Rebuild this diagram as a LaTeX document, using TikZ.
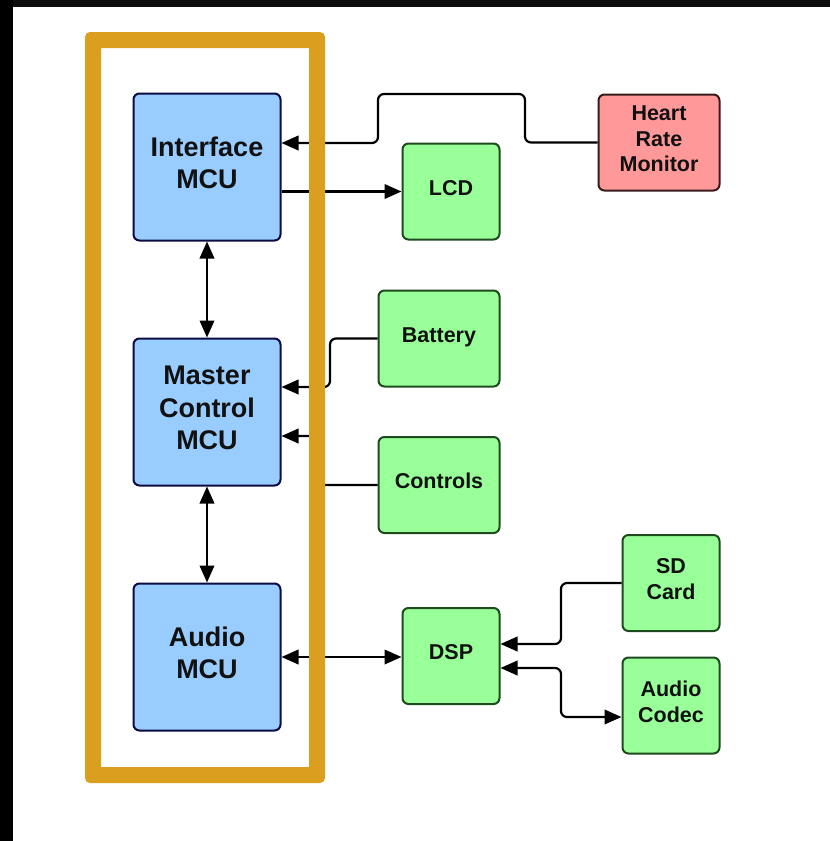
\documentclass[tikz,border=0pt]{standalone}
\usepackage{fontspec}
\setmainfont{Liberation Sans}
\usetikzlibrary{arrows.meta}

\definecolor{mcublue}{HTML}{99CCFF}
\definecolor{mcuedge}{HTML}{0B0B45}
\definecolor{periph}{HTML}{99FF99}
\definecolor{periphedge}{HTML}{1E4A1E}
\definecolor{sensor}{HTML}{FF9999}
\definecolor{sensoredge}{HTML}{3A1A1A}
\definecolor{frameorange}{HTML}{DB9F20}
\definecolor{inktext}{HTML}{111111}
\definecolor{topband}{HTML}{0D0D0D}

% centred block of lines, lifted a little without changing its size
\newcommand{\liftlines}[2]{\raisebox{#1}[\height][\depth]{\begin{tabular}{@{}c@{}}#2\end{tabular}}}
\newcommand{\bigtxt}[1]{\liftlines{1.2pt}{#1}}
\newcommand{\smalltxt}[1]{\liftlines{1.5pt}{#1}}

\tikzset{
  mcu/.style={draw=mcuedge, fill=mcublue, line width=2pt, rounded corners=6pt,
    minimum width=147pt, minimum height=147pt, inner sep=0pt,
    text=inktext, font=\fontsize{27}{32.5}\selectfont\bfseries},
  dev/.style={draw=periphedge, fill=periph, line width=2pt, rounded corners=6pt,
    minimum height=96pt, inner sep=0pt,
    text=inktext, font=\fontsize{21.5}{25.8}\selectfont\bfseries},
  sens/.style={dev, draw=sensoredge, fill=sensor},
  conn/.style={draw=black, line width=2.2pt, rounded corners=6pt},
  tip/.tip={Triangle[length=17pt, width=14.5pt]},
  toward/.style={conn, -tip},
  both/.style={conn, tip-tip},
}

\begin{document}
\begin{tikzpicture}[x=1pt, y=-1pt]
  % page area with the dark screen edges
  \fill[white] (0,0) rectangle (830,841);
  \useasboundingbox (0,0) rectangle (830,841);
  \fill[black] (0,0) rectangle (13,841);
  \fill[topband] (13,0) rectangle (830,7);

  % processors
  \node[mcu] (iface)  at (207,167) {\bigtxt{Interface\\MCU}};
  \node[mcu] (master) at (207,412) {\bigtxt{Master\\Control\\MCU}};
  \node[mcu] (audio)  at (207,657) {\bigtxt{Audio\\MCU}};

  % peripherals
  \node[sens, minimum width=121pt] (hrm)      at (659,142.5) {\smalltxt{Heart\\Rate\\Monitor}};
  \node[dev,  minimum width=97pt]  (lcd)      at (451,191.5) {\smalltxt{LCD}};
  \node[dev,  minimum width=121pt] (battery)  at (439,338.5) {\smalltxt{Battery}};
  \node[dev,  minimum width=121pt] (controls) at (439,485)   {\smalltxt{Controls}};
  \node[dev,  minimum width=97pt]  (dsp)      at (451,656)   {\smalltxt{DSP}};
  \node[dev,  minimum width=97pt]  (sd)       at (671,583)   {\smalltxt{SD\\Card}};
  \node[dev,  minimum width=97pt]  (codec)    at (671,705.5) {\smalltxt{Audio\\Codec}};

  % routing points
  \coordinate (hrmA) at (525,142.5);
  \coordinate (hrmB) at (525,94);
  \coordinate (hrmC) at (378,94);
  \coordinate (hrmD) at (378,143);
  \coordinate (batA) at (330,338.5);
  \coordinate (batB) at (330,387);
  \coordinate (ctlA) at (317,485);
  \coordinate (ctlB) at (317,436);
  \coordinate (sdA)  at (561,583);
  \coordinate (sdB)  at (561,644);
  \coordinate (cdA)  at (500,668);
  \coordinate (cdB)  at (561,668);
  \coordinate (cdC)  at (561,717);

  % connectors
  \draw[toward] (hrm.west) -- (hrmA) -- (hrmB) -- (hrmC) -- (hrmD) -- (iface.east |- hrmD);
  \draw[toward] (iface.east |- lcd.west) -- (lcd.west);
  \draw[both] (iface.south) -- (master.north);
  \draw[toward] (battery.west) -- (batA) -- (batB) -- (master.east |- batB);
  \draw[toward] (controls.west) -- (ctlA) -- (ctlB) -- (master.east |- ctlB);
  \draw[both] (master.south) -- (audio.north);
  \draw[both] (audio.east) -- (audio.east -| dsp.west);
  \draw[toward] (sd.west) -- (sdA) -- (sdB) -- (dsp.east |- sdB);
  \draw[both] (dsp.east |- cdA) -- (cdB) -- (cdC) -- (codec.west |- cdC);

  % grouping frame round the processors
  \path[fill=frameorange, even odd rule]
    [rounded corners=5pt] (85,32) rectangle (325,783)
    [sharp corners] (101,48) rectangle (309,767);
\end{tikzpicture}
\end{document}
